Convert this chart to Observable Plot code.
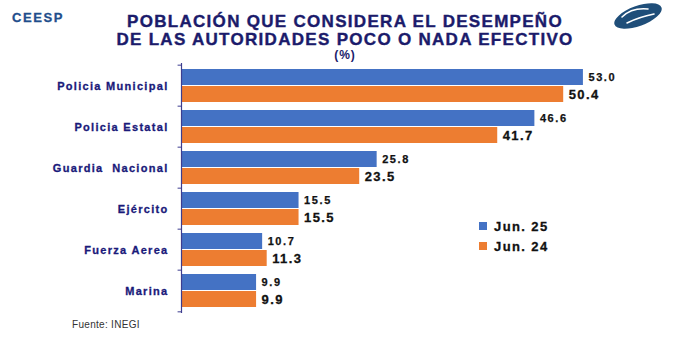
<!DOCTYPE html>
<html>
<head>
<meta charset="utf-8">
<script src="https://cdn.jsdelivr.net/npm/d3@7"></script>
<script src="https://cdn.jsdelivr.net/npm/@observablehq/plot@0.6"></script>
<style>
  html, body { margin: 0; padding: 0; background: #fff; }
  body { width: 684px; height: 342px; position: relative; overflow: hidden; font-family: "Liberation Sans", Arial, sans-serif; }
  .abs { position: absolute; white-space: nowrap; }
  #title { left: 0; width: 690px; top: 13px; text-align: center; font-weight: bold; font-size: 17px; line-height: 18px; letter-spacing: 1.3px; color: #1b1b6b; -webkit-text-stroke: 0.4px #1b1b6b; }
  #pct { left: 0; width: 690px; top: 48px; text-align: center; font-weight: bold; font-size: 12px; letter-spacing: 1px; color: #1b1b6b; }
  #ceesp { left: 12px; top: 10px; font-weight: bold; font-size: 13px; letter-spacing: 1.6px; color: #1f4e8c; -webkit-text-stroke: 0.3px #1f4e8c; }
  #source { left: 72px; top: 319px; font-size: 10px; letter-spacing: 0.3px; color: #333; }
  #legend { left: 479px; top: 216px; font-weight: bold; font-size: 13px; letter-spacing: 1.4px; color: #111; -webkit-text-stroke: 0.3px #111; }
  #legend div { height: 20px; display: flex; align-items: center; }
  #legend span.sw { display: inline-block; width: 8px; height: 8px; margin-right: 7px; }
  #logo { left: 610px; top: 1px; }
  #chart { position: absolute; left: 0; top: 0; }
  g[aria-description="cats"] text { letter-spacing: 1.3px; stroke: #1a1a7a; stroke-width: 0.3px; }
  g[aria-description="lab25"] text { letter-spacing: 1.6px; stroke: #111; stroke-width: 0.25px; }
  g[aria-description="lab24"] text { letter-spacing: 1.4px; stroke: #111; stroke-width: 0.3px; }
</style>
</head>
<body>
<div id="chart"></div>
<div id="ceesp" class="abs">CEESP</div>
<div id="title" class="abs">POBLACIÓN QUE CONSIDERA EL DESEMPEÑO<br>DE LAS AUTORIDADES POCO O NADA EFECTIVO</div>
<div id="pct" class="abs">(%)</div>
<div id="legend" class="abs"></div>
<div id="source" class="abs">Fuente: INEGI</div>
<svg id="logo" class="abs" width="60" height="32" viewBox="0 0 60 32">
  <defs><clipPath id="ec"><ellipse cx="28" cy="15" rx="25" ry="10" transform="rotate(-20 28 15)"/></clipPath></defs>
  <ellipse cx="28" cy="15" rx="25" ry="10" transform="rotate(-20 28 15)" fill="#1f4e79"/>
  <g clip-path="url(#ec)" stroke="#fff" stroke-width="1.6" fill="none" stroke-linecap="round">
    <path d="M12 16 C18 10, 28 7, 38 8"/>
    <path d="M17 22 C25 18, 34 15, 44 13"/>
  </g>
</svg>
<script>
const categories = ["Policia Municipal", "Policia Estatal", "Guardia  Nacional", "Ejército", "Fuerza Aerea", "Marina"];
const seriesNames = ["Jun. 25", "Jun. 24"];
const jun25 = [53.0, 46.6, 25.8, 15.5, 10.7, 9.9];
const jun24 = [50.4, 41.7, 23.5, 15.5, 11.3, 9.9];
const colors = ["#4472C4", "#ED7D31"];

const d25 = categories.map((c, i) => ({cat: c, v: jun25[i]}));
const d24 = categories.map((c, i) => ({cat: c, v: jun24[i]}));

const axisColor = "#3d3d8f";
const band = 250 / categories.length;

const chart = Plot.plot({
  width: 684,
  height: 342,
  marginLeft: 181,
  marginRight: 48,
  marginTop: 63,
  marginBottom: 29,
  style: {fontFamily: "'Liberation Sans', Arial, sans-serif", background: "transparent"},
  x: {domain: [0, 60], axis: null},
  y: {domain: categories, padding: 0, axis: null},
  marks: [
    Plot.barX(d25, {x: "v", y: "cat", fill: colors[0], insetTop: 4, insetBottom: 21}),
    Plot.barX(d24, {x: "v", y: "cat", fill: colors[1], insetTop: 21, insetBottom: 4}),
    Plot.ruleX([0], {stroke: axisColor, strokeWidth: 1.2}),
    Plot.ruleY(categories, {y: d => d, x1: -0.45, x2: 0, dy: -band / 2, stroke: axisColor}),
    Plot.ruleY([categories[categories.length - 1]], {y: d => d, x1: -0.45, x2: 0, dy: band / 2, stroke: axisColor}),
    Plot.text(d25, {x: "v", y: "cat", text: d => d.v.toFixed(1), dx: 5, dy: -8.5, textAnchor: "start", fontSize: 11, fontWeight: "bold", fill: "#111", ariaDescription: "lab25"}),
    Plot.text(d24, {x: "v", y: "cat", text: d => d.v.toFixed(1), dx: 5, dy: 8.5, textAnchor: "start", fontSize: 13, fontWeight: "bold", fill: "#111", ariaDescription: "lab24"}),
    Plot.text(categories, {x: 0, y: d => d, text: d => d, dx: -13, textAnchor: "end", fontSize: 11, fontWeight: "bold", fill: "#1a1a7a", ariaDescription: "cats"})
  ]
});
document.getElementById("chart").appendChild(chart);

const legend = document.getElementById("legend");
seriesNames.forEach((name, i) => {
  const row = document.createElement("div");
  const sw = document.createElement("span");
  sw.className = "sw";
  sw.style.background = colors[i];
  row.appendChild(sw);
  row.appendChild(document.createTextNode(name));
  legend.appendChild(row);
});
</script>
</body>
</html>
